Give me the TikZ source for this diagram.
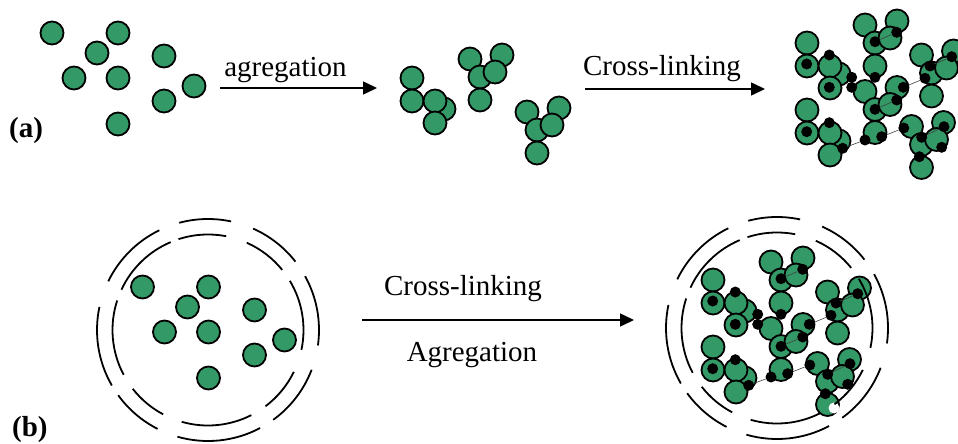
\documentclass[tikz,border=0pt]{standalone}
\usepackage{fontspec}
\setmainfont{Liberation Serif}
\usetikzlibrary{arrows.meta, positioning}
\definecolor{BeadGreen}{RGB}{51,153,102}

\begin{document}
\begin{tikzpicture}[
          x=1pt, y=-1pt,
          bead/.style={fill=BeadGreen, draw=black, line width=1.8pt},
          knot/.style={circle, fill=black, inner sep=0pt, minimum size=11pt},
          link/.style={line width=0.6pt, black!75},
          ring/.style={line width=1.8pt},
          arrow/.style={-{Triangle[length=14pt, width=13pt]}, line width=1.5pt},
          txt/.style={font=\fontsize{29}{34}\selectfont, inner sep=0pt},
          tag/.style={font=\fontsize{29}{34}\selectfont\bfseries, inner sep=0pt},
          pairgroup/.pic={\foreach \x/\y in {0/0,0/23,32/31,23/23,23/45} \filldraw[bead] (\x,\y) circle (11.5);},
          trigroup/.pic={\foreach \x/\y in {0/0,32/-4,10/18,25/13,10/41} \filldraw[bead] (\x,\y) circle (11.5);}
        ]
          \useasboundingbox (0,0) rectangle (958,444);

          % free beads, (a) and inside the cell (b)
          \foreach \dx/\dy in {0/0, 90.5/254}
            \foreach \x/\y in {52/33,118/33,97/53,164/56,74/78,118/78,194/86,164/101,118/124}
              \filldraw[bead] (\x+\dx,\y+\dy) circle (11.5);

          % aggregates
          \pic at (412,78) {pairgroup};
          \pic at (470,59) {trigroup};
          \pic at (527,112) {trigroup};

          % cross-linked network, (a) and inside the cell (b)
          \foreach \dx/\dy in {0/0, -94/237}{
            \begin{scope}[shift={(\dx,\dy)}]
              \pic at (807,43) {pairgroup};
              \pic at (807,110) {pairgroup};
              \pic at (865,25) {trigroup};
              \pic at (865,91.5) {trigroup};
              \pic at (921.5,55) {trigroup};
              \pic at (911.5,126.5) {trigroup};

              \node[knot] (a1) at (806.7,64) {};
              \node[knot] (a2) at (829.3,55) {};
              \node[knot] (a3) at (829.3,87.3) {};
              \node[knot] (a4) at (851.7,77.3) {};
              \node[knot] (ad) at (851.7,87.3) {};
              \node[knot] (b1) at (875,41.7) {};
              \node[knot] (b2) at (896.7,32.3) {};
              \node[knot] (b3) at (875,77.3) {};
              \node[knot] (c1) at (930,66) {};
              \node[knot] (c2) at (925,78.3) {};
              \node[knot] (c3) at (951.7,56.7) {};
              \node[knot] (d1) at (903.3,87.3) {};
              \node[knot] (d2) at (896.7,100) {};
              \node[knot] (d3) at (875,109.3) {};
              \node[knot] (d4) at (865,140) {};
              \node[knot] (d5) at (881.7,136.7) {};
              \node[knot] (e1) at (806.7,131.7) {};
              \node[knot] (e2) at (829.3,122.7) {};
              \node[knot] (e3) at (842.7,148.3) {};
              \node[knot] (f1) at (903.8,128) {};
              \node[knot] (f2) at (944,126.7) {};
              \node[knot] (f3) at (921.7,137.3) {};
              \node[knot] (f4) at (941.7,147.3) {};
              \node[knot] (f5) at (919.3,156.7) {};

              \draw[link] (b1) -- (b2);
              \draw[link] (d3) -- (d2);
              \draw[link] (d1) -- (c2);
              \draw[link] (c1) -- (c3);
              \draw[link] (d5) -- (f1);
              \draw[link] (e3) -- (d4);
              \draw[link] (f3) -- (f2);
            \end{scope}
          }
          \fill[white] (834,408) circle (5.5);

          % cell walls
          \coordinate (leftcell) at (208,330);
          \coordinate (rightcell) at (777,328);
          \foreach \c in {leftcell, rightcell}{
            \foreach \a/\b in {-105/-78,-66/-38,-29/8,21/54,62/106,117/144,150/192,-154/-116}
              \draw[ring] (\c) ++(\a:111) arc[start angle=\a, end angle=\b, radius=111];
            \foreach \a/\b in {-108/-79,-66/-39,-31/12,26/53,63/106,118/142,152/198,-155/-113}
              \draw[ring] (\c) ++(\a:95.5) arc[start angle=\a, end angle=\b, radius=95.5];
          }

          % reaction arrows
          \coordinate (agg from) at (220,88);
          \coordinate (agg to) at (377,88);
          \coordinate (net from) at (585,89);
          \coordinate (net to) at (765,89);
          \coordinate (cell from) at (362,320);
          \coordinate (cell to) at (634,320);
          \draw[arrow] (agg from) -- (agg to);
          \draw[arrow] (net from) -- (net to);
          \draw[arrow] (cell from) -- (cell to);

          \node[txt, anchor=base] (agg label) at (285.5,76) {agregation};
          \node[txt, anchor=base] (net label) at (662,75) {Cross-linking};
          \node[txt, anchor=base] (cell label) at (463,295) {Cross-linking};
          \node[txt, anchor=base] (cell label2) at (472,361) {Agregation};

          \node[tag, anchor=base west] (tag a) at (9,137) {(a)};
          \node[tag, anchor=base west] (tag b) at (12,436) {(b)};
        \end{tikzpicture}
\end{document}
